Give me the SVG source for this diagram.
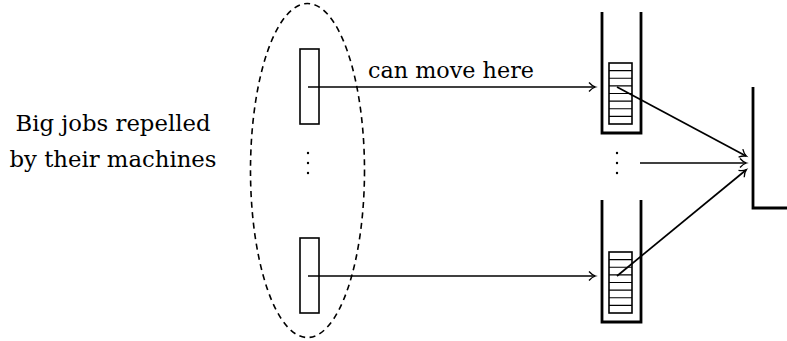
<svg xmlns="http://www.w3.org/2000/svg" width="787" height="341" viewBox="0 0 787 341">
<style>
.t{font-family:'DejaVu Serif','Liberation Serif',serif;font-size:23px;fill:#000}
.thin{fill:none;stroke:#000;stroke-width:1.6}
.wall{fill:none;stroke:#000;stroke-width:2.8}
.conn{fill:none;stroke:#000;stroke-width:1.7;marker-end:url(#ah)}
</style>
<defs>
<marker id="ah" markerWidth="12" markerHeight="12" refX="9" refY="6" orient="auto" markerUnits="userSpaceOnUse">
<path d="M3,1.5 Q6,5 9.5,6 Q6,7 3,10.5" fill="none" stroke="#000" stroke-width="1.3"/>
</marker>
</defs>
<g id="label">
<text class="t" x="113" y="131" text-anchor="middle" textLength="195" lengthAdjust="spacingAndGlyphs">Big jobs repelled</text>
<text class="t" x="113" y="167" text-anchor="middle" textLength="207" lengthAdjust="spacingAndGlyphs">by their machines</text>
</g>
<g id="group">
<ellipse cx="307.5" cy="170.5" rx="57" ry="167" fill="none" stroke="#000" stroke-width="1.6" stroke-dasharray="6,4.5"/>
</g>
<g id="job1"><rect class="thin" x="300" y="49" width="19" height="75"/></g>
<g id="job2"><rect class="thin" x="300" y="238" width="19" height="75"/></g>
<g id="dots1" fill="#000">
<circle cx="308" cy="153" r="1.2"/><circle cx="308" cy="163" r="1.2"/><circle cx="308" cy="173" r="1.2"/>
</g>
<g id="queue1">
<path class="wall" d="M602,12 V133 H641 V12"/>
<rect class="thin" x="609" y="63" width="23" height="61" stroke-width="1.3"/>
<path fill="none" stroke="#000" stroke-width="1.2" d="M609,70.6H632M609,78.25H632M609,85.9H632M609,93.5H632M609,101.1H632M609,108.75H632M609,116.4H632"/>
</g>
<g id="queue2">
<path class="wall" d="M602,200 V322 H641 V200"/>
<rect class="thin" x="609" y="252" width="23" height="61" stroke-width="1.3"/>
<path fill="none" stroke="#000" stroke-width="1.2" d="M609,259.6H632M609,267.25H632M609,274.9H632M609,282.5H632M609,290.1H632M609,297.75H632M609,305.4H632"/>
</g>
<g id="dots2" fill="#000">
<circle cx="617" cy="153" r="1.2"/><circle cx="617" cy="163" r="1.2"/><circle cx="617" cy="173" r="1.2"/>
</g>
<g id="machine">
<path class="wall" d="M753,87 V208 H787"/>
</g>
<g id="connectors">
<line class="conn" x1="308" y1="87" x2="595" y2="87"/>
<line class="conn" x1="308" y1="276" x2="595" y2="276"/>
<line class="conn" x1="617" y1="87" x2="746" y2="156"/>
<line class="conn" x1="640" y1="163" x2="746" y2="163"/>
<line class="conn" x1="617" y1="276" x2="746" y2="170"/>
<text class="t" x="368" y="78" textLength="166" lengthAdjust="spacingAndGlyphs">can move here</text>
</g>
</svg>
